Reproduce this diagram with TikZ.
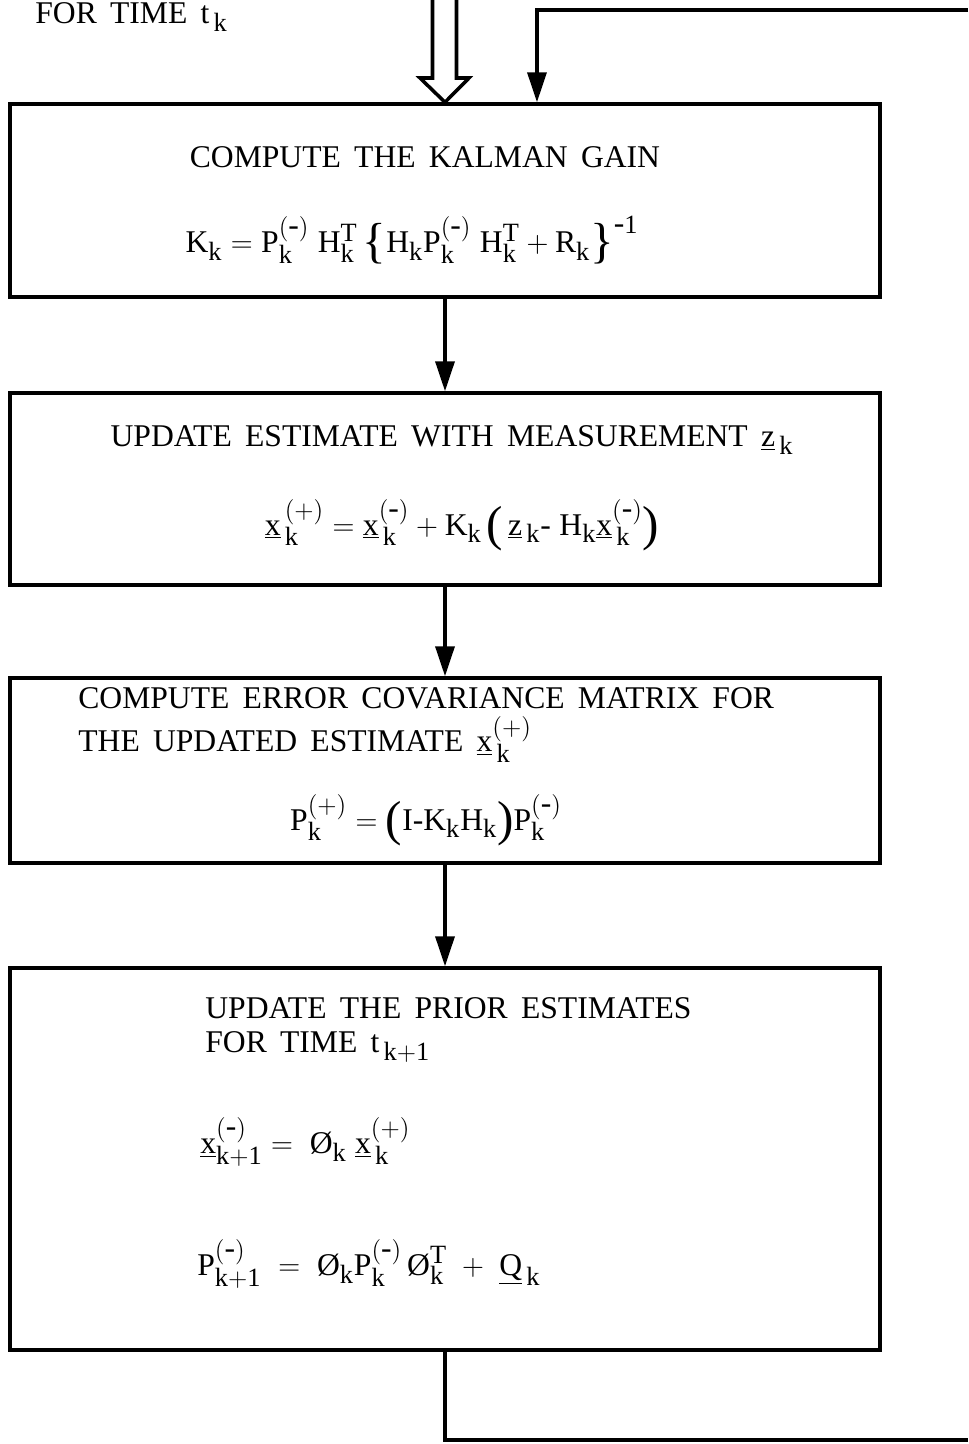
\documentclass[tikz,border=0pt]{standalone}
\usepackage{fontspec}
\setmainfont{Liberation Serif}
\usetikzlibrary{arrows.meta}
\DeclareMathSizes{18}{18}{15}{12}
\newcommand{\lblfont}{\fontsize{18}{19}\selectfont\spaceskip=0.42em plus 0.1em\relax}

\tikzset{
  stepbox/.style={draw, line width=2pt, minimum width=17.4cm, inner sep=0pt},
  lbl/.style={font=\lblfont, inner sep=0pt},
  flow/.style={line width=2pt, -{Triangle[length=0.6cm,width=0.38cm]}},
  wire/.style={line width=2pt},
}
\newcommand{\ux}{\underline{x}}
\newcommand{\uz}{\underline{z}}
\newcommand{\uQ}{\underline{Q}}
\newcommand{\fk}{\mbox{Ø}}
\newcommand{\hy}{\mbox{-}}
\newcommand{\mi}{(\hy)}
\newcommand{\bigd}[1]{\raisebox{-0.16em}{\fontsize{28}{28}\selectfont #1}}

\begin{document}
\begin{tikzpicture}[x=0.02cm, y=-0.02cm]
    \useasboundingbox (0,0) rectangle (968,1444);
    % boxes
    \node[stepbox, minimum height=3.86cm] (gain) at (445,200.5) {};
    \node[stepbox, minimum height=3.84cm] (update) at (445,489) {};
    \node[stepbox, minimum height=3.70cm] (cov) at (445,770.5) {};
    \node[stepbox, minimum height=7.64cm] (prior) at (445,1159) {};
    % texts
    \node[lbl, anchor=west] (time) at (35,17) {FOR TIME $\mathrm{t_{\,k}}$};
    \node[lbl] (gaintxt) at (425,157) {COMPUTE THE KALMAN GAIN};
    \node[lbl] (gaineq) at (412,240) {$\mathrm{K_k = P_k^{\mi}\;H_k^T\,\bigd{\{}H_k P_k^{\mi}\;H_k^T + R_k\bigd{\}}^{\hy1}}$};
    \node[lbl] (updtxt) at (452,440) {UPDATE ESTIMATE WITH MEASUREMENT $\mathrm{\uz_{\,k}}$};
    \node[lbl] (updeq) at (462,525) {$\mathrm{\ux_{\,k}^{\,(+)} = \ux_{\,k}^{\mi} + K_k\,\bigd{(}\,\uz_{\,k}\hy\; H_k\ux_{\,k}^{\mi}\bigd{)}}$};
    \node[lbl, anchor=west, align=left] (covtxt) at (78,725) {COMPUTE ERROR COVARIANCE MATRIX FOR\\[3pt]THE UPDATED ESTIMATE $\mathrm{\ux_{\,k}^{(+)}}$};
    \node[lbl] (coveq) at (426,820) {$\mathrm{P_k^{(+)} = \bigd{(}I \hy K_k H_k\bigd{)}P_k^{\mi}}$};
    \node[lbl, anchor=west, align=left] (priortxt) at (205,1030) {UPDATE THE PRIOR ESTIMATES\\FOR TIME $\mathrm{t_{\,k+1}}$};
    \node[lbl, anchor=west] (prioreqa) at (200,1142) {$\mathrm{\ux_{k+1}^{\mi} = \;\fk_k\;\ux_{\,k}^{(+)}}$};
    \node[lbl, anchor=west] (prioreqb) at (197,1264) {$\mathrm{P_{k+1}^{\mi} \;=\; \fk_kP_k^{\mi}\,\fk_k^T \;+\; \uQ_{\,k}}$};
    % connectors
    \draw[flow] (gain.south) -- (update.north);
    \draw[flow] (update.south) -- (cov.north);
    \draw[flow] (cov.south) -- (prior.north);
    % input (hollow double arrow)
    \draw[wire, line join=miter] (432.5,0) -- (432.5,78) -- (420,78) -- (gain.north) -- (469,78) -- (456.5,78) -- (456.5,0);
    % feedback loop
    \coordinate (fbin) at (968,10);
    \coordinate (fbout) at (968,1440);
    \draw[flow] (fbin) -| ([xshift=1.84cm]gain.north);
    \draw[wire] (prior.south) |- (fbout);
\end{tikzpicture}
\end{document}
